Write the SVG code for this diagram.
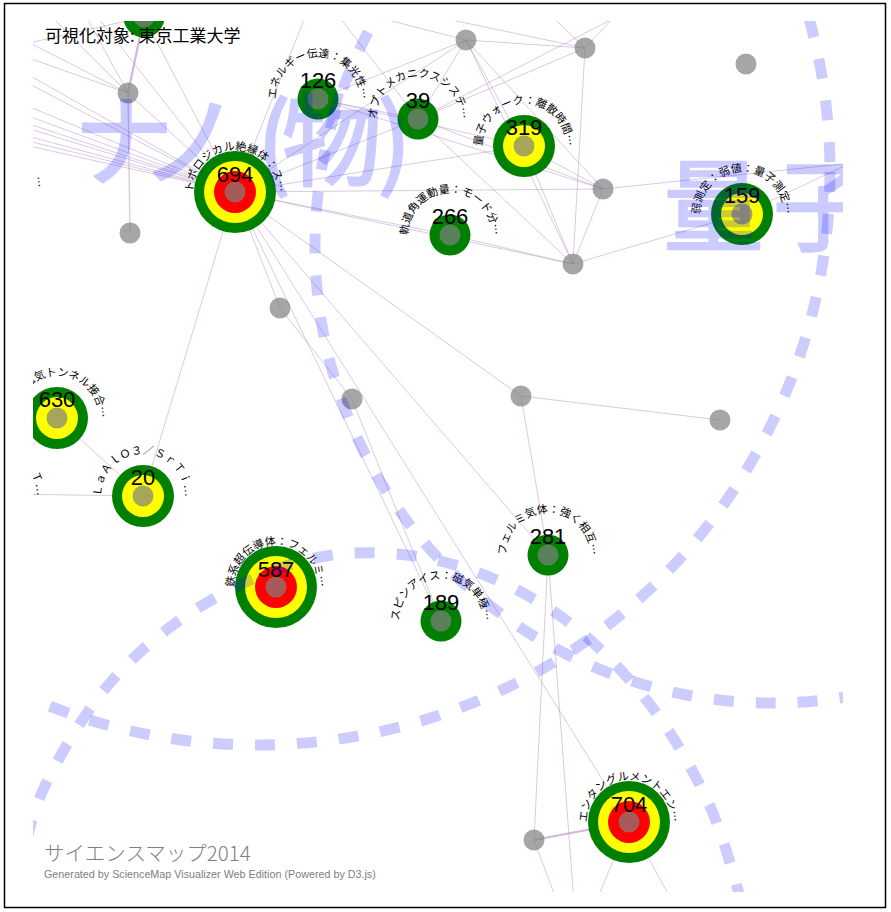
<svg xmlns="http://www.w3.org/2000/svg" xmlns:xlink="http://www.w3.org/1999/xlink" width="891" height="912" viewBox="0 0 891 912">
<style>
.lk{stroke:#b088c0;stroke-opacity:.45;stroke-width:1;fill:none}
.lk2{stroke:#b088c0;stroke-opacity:.6;stroke-width:2.2;fill:none}
.g{fill:#008000}.y{fill:#ffff00}.r{fill:#ff0000}.c{fill:#808080;fill-opacity:.7}
.num{font-family:"Liberation Sans",Arial,sans-serif;font-size:22px;text-anchor:middle;fill:#000}
.lbl{font-family:"Noto Sans CJK JP","Noto Sans CJK SC",sans-serif;font-size:11px;fill:#000}
.wm{font-family:"Noto Sans CJK JP","Noto Sans CJK SC",sans-serif;fill:#0000ff;stroke:#0000ff;stroke-width:2.5;stroke-linejoin:round;opacity:.2}
.dash{fill:none;stroke:#0000ff;stroke-opacity:.2;stroke-width:11;stroke-dasharray:20 22}
</style>
<defs>
<clipPath id="mapclip"><rect x="33" y="21" width="810" height="871"/></clipPath>
<path id="a694" d="M195.53,206.36 A42,42 0 1 1 274.47,206.36"/>
<path id="a126" d="M278.53,113.36 A42,42 0 1 1 357.47,113.36"/>
<path id="a39" d="M378.53,133.36 A42,42 0 1 1 457.47,133.36"/>
<path id="a319" d="M484.53,160.36 A42,42 0 1 1 563.47,160.36"/>
<path id="a266" d="M410.53,249.36 A42,42 0 1 1 489.47,249.36"/>
<path id="a159" d="M702.53,228.36 A42,42 0 1 1 781.47,228.36"/>
<path id="a630" d="M17.53,432.36 A42,42 0 1 1 96.47,432.36"/>
<path id="a20" d="M103.53,510.36 A42,42 0 1 1 182.47,510.36"/>
<path id="a587" d="M236.53,601.36 A42,42 0 1 1 315.47,601.36"/>
<path id="a189" d="M401.53,635.36 A42,42 0 1 1 480.47,635.36"/>
<path id="a281" d="M508.53,569.36 A42,42 0 1 1 587.47,569.36"/>
<path id="a704" d="M589.53,836.36 A42,42 0 1 1 668.47,836.36"/>
<path id="aL1" d="M-46.47,202.36 A42,42 0 1 1 32.47,202.36"/>
<path id="aL2" d="M-44.47,509.86 A42,42 0 1 1 34.47,509.86"/>
</defs>
<rect x="0" y="0" width="891" height="912" fill="#fff"/>
<g clip-path="url(#mapclip)">
<g id="links">
<line class="lk2" x1="144" y1="17" x2="128" y2="93"/>
<line class="lk" x1="128" y1="93" x2="130" y2="233" style="stroke-width:1.4"/>
<line class="lk" x1="144" y1="17" x2="235" y2="192"/>
<line class="lk" x1="128" y1="93" x2="235" y2="192"/>
<line class="lk" x1="20" y1="38" x2="128" y2="93"/>
<line class="lk" x1="20" y1="55" x2="128" y2="93"/>
<line class="lk" x1="40" y1="5" x2="128" y2="93"/>
<line class="lk" x1="80" y1="5" x2="128" y2="93"/>
<line class="lk" x1="20" y1="45" x2="144" y2="17"/>
<line class="lk" x1="88" y1="5" x2="235" y2="192"/>
<line class="lk" x1="20" y1="70" x2="235" y2="192"/>
<line class="lk" x1="20" y1="79" x2="235" y2="192"/>
<line class="lk" x1="20" y1="103" x2="235" y2="192"/>
<line class="lk" x1="20" y1="113" x2="235" y2="192"/>
<line class="lk" x1="20" y1="121" x2="235" y2="192"/>
<line class="lk" x1="20" y1="126" x2="235" y2="192"/>
<line class="lk" x1="20" y1="134" x2="235" y2="192"/>
<line class="lk" x1="20" y1="139" x2="235" y2="192"/>
<line class="lk" x1="20" y1="144" x2="235" y2="192"/>
<line class="lk" x1="235" y1="192" x2="310" y2="5"/>
<line class="lk" x1="235" y1="192" x2="418" y2="119"/>
<line class="lk" x1="235" y1="192" x2="524" y2="146"/>
<line class="lk" x1="235" y1="192" x2="603" y2="189"/>
<line class="lk" x1="235" y1="192" x2="450" y2="235"/>
<line class="lk" x1="235" y1="192" x2="573" y2="264"/>
<line class="lk" x1="235" y1="192" x2="466" y2="40"/>
<line class="lk" x1="235" y1="192" x2="280" y2="308"/>
<line class="lk" x1="280" y1="308" x2="352" y2="399"/>
<line class="lk" x1="235" y1="192" x2="441" y2="621"/>
<line class="lk" x1="352" y1="399" x2="441" y2="621"/>
<line class="lk" x1="235" y1="192" x2="629" y2="822"/>
<line class="lk" x1="235" y1="192" x2="548" y2="555"/>
<line class="lk" x1="235" y1="192" x2="521" y2="396"/>
<line class="lk" x1="235" y1="192" x2="143" y2="496"/>
<line class="lk" x1="521" y1="396" x2="720" y2="420"/>
<line class="lk" x1="521" y1="396" x2="548" y2="555"/>
<line class="lk" x1="548" y1="555" x2="534" y2="840"/>
<line class="lk" x1="548" y1="555" x2="576" y2="930"/>
<line class="lk2" x1="629" y1="822" x2="534" y2="840"/>
<line class="lk" x1="629" y1="822" x2="592" y2="912"/>
<line class="lk" x1="629" y1="822" x2="678" y2="912"/>
<line class="lk" x1="534" y1="840" x2="561" y2="912"/>
<line class="lk" x1="57" y1="418" x2="143" y2="496"/>
<line class="lk" x1="57" y1="418" x2="10" y2="470"/>
<line class="lk" x1="143" y1="496" x2="0" y2="494"/>
<line class="lk" x1="318" y1="99" x2="418" y2="119"/>
<line class="lk" x1="318" y1="99" x2="524" y2="146"/>
<line class="lk" x1="318" y1="99" x2="466" y2="40"/>
<line class="lk" x1="318" y1="99" x2="603" y2="189"/>
<line class="lk" x1="418" y1="119" x2="466" y2="40"/>
<line class="lk" x1="418" y1="119" x2="585" y2="48"/>
<line class="lk" x1="418" y1="119" x2="603" y2="189"/>
<line class="lk" x1="418" y1="119" x2="573" y2="264"/>
<line class="lk" x1="418" y1="119" x2="330" y2="5"/>
<line class="lk" x1="418" y1="119" x2="630" y2="10"/>
<line class="lk" x1="466" y1="40" x2="585" y2="48"/>
<line class="lk" x1="466" y1="40" x2="603" y2="189"/>
<line class="lk" x1="466" y1="40" x2="573" y2="264"/>
<line class="lk" x1="466" y1="40" x2="524" y2="146"/>
<line class="lk" x1="290" y1="-5" x2="466" y2="40"/>
<line class="lk" x1="380" y1="5" x2="585" y2="48"/>
<line class="lk" x1="585" y1="48" x2="540" y2="5"/>
<line class="lk" x1="585" y1="48" x2="625" y2="5"/>
<line class="lk" x1="585" y1="48" x2="573" y2="264"/>
<line class="lk" x1="603" y1="189" x2="573" y2="264"/>
<line class="lk" x1="603" y1="189" x2="900" y2="158"/>
<line class="lk" x1="524" y1="146" x2="603" y2="189"/>
<line class="lk" x1="524" y1="146" x2="573" y2="264"/>
<line class="lk" x1="450" y1="235" x2="573" y2="264"/>
<line class="lk" x1="573" y1="264" x2="742" y2="214"/>
<line class="lk" x1="742" y1="214" x2="900" y2="140"/>
</g>
<g id="node-tl"><circle class="g" cx="144" cy="17" r="20.5"/><circle class="c" cx="144" cy="17" r="10.5"/></g>
<g id="node-g1"><circle class="c" cx="128" cy="93" r="10.5"/></g>
<g id="node-g2"><circle class="c" cx="130" cy="233" r="10.5"/></g>
<g id="node-g3"><circle class="c" cx="466" cy="40" r="10.5"/></g>
<g id="node-g4"><circle class="c" cx="585" cy="48" r="10.5"/></g>
<g id="node-g5"><circle class="c" cx="746" cy="64" r="10.5"/></g>
<g id="node-g6"><circle class="c" cx="603" cy="189" r="10.5"/></g>
<g id="node-g7"><circle class="c" cx="573" cy="264" r="10.5"/></g>
<g id="node-g8"><circle class="c" cx="280" cy="308" r="10.5"/></g>
<g id="node-g9"><circle class="c" cx="352" cy="399" r="10.5"/></g>
<g id="node-g10"><circle class="c" cx="521" cy="396" r="10.5"/></g>
<g id="node-g11"><circle class="c" cx="720" cy="420" r="10.5"/></g>
<g id="node-g12"><circle class="c" cx="534" cy="840" r="10.5"/></g>
<g id="node-694"><circle class="g" cx="235" cy="192" r="41"/><circle class="y" cx="235" cy="192" r="31"/><circle class="r" cx="235" cy="192" r="21"/><circle class="c" cx="235" cy="192" r="10.5"/><text class="num" x="235" y="182">694</text><text class="lbl" text-anchor="middle"><textPath xlink:href="#a694" startOffset="50%">トポロジカル絶縁体：ス…</textPath></text></g>
<g id="node-126"><circle class="g" cx="318" cy="99" r="20.5"/><circle class="c" cx="318" cy="99" r="10.5"/><text class="num" x="318" y="88">126</text><text class="lbl" text-anchor="middle"><textPath xlink:href="#a126" startOffset="50%">エネルギー伝達：集光性…</textPath></text></g>
<g id="node-39"><circle class="g" cx="418" cy="119" r="20.5"/><circle class="c" cx="418" cy="119" r="10.5"/><text class="num" x="418" y="108">39</text><text class="lbl" text-anchor="middle"><textPath xlink:href="#a39" startOffset="50%">オプトメカニクスシステ…</textPath></text></g>
<g id="node-319"><circle class="g" cx="524" cy="146" r="31"/><circle class="y" cx="524" cy="146" r="21"/><circle class="c" cx="524" cy="146" r="10.5"/><text class="num" x="524" y="135">319</text><text class="lbl" text-anchor="middle"><textPath xlink:href="#a319" startOffset="50%">量子ウォーク：離散時間…</textPath></text></g>
<g id="node-266"><circle class="g" cx="450" cy="235" r="20.5"/><circle class="c" cx="450" cy="235" r="10.5"/><text class="num" x="450" y="224">266</text><text class="lbl" text-anchor="middle"><textPath xlink:href="#a266" startOffset="50%">軌道角運動量：モード分…</textPath></text></g>
<g id="node-159"><circle class="g" cx="742" cy="214" r="31"/><circle class="y" cx="742" cy="214" r="21"/><circle class="c" cx="742" cy="214" r="10.5"/><text class="num" x="742" y="203">159</text><text class="lbl" text-anchor="middle"><textPath xlink:href="#a159" startOffset="50%">弱測定：弱値：量子測定…</textPath></text></g>
<g id="node-630"><circle class="g" cx="57" cy="418" r="31"/><circle class="y" cx="57" cy="418" r="21"/><circle class="c" cx="57" cy="418" r="10.5"/><text class="num" x="57" y="407">630</text><text class="lbl" text-anchor="end"><textPath xlink:href="#a630" startOffset="90.91%">磁気トンネル接合…</textPath></text></g>
<g id="node-20"><circle class="g" cx="143" cy="496" r="31"/><circle class="y" cx="143" cy="496" r="21"/><circle class="c" cx="143" cy="496" r="10.5"/><text class="num" x="143" y="485">20</text><text class="lbl" text-anchor="middle"><textPath xlink:href="#a20" startOffset="50%">ＬａＡｌＯ３／ＳｒＴｉ…</textPath></text></g>
<g id="node-587"><circle class="g" cx="276" cy="587" r="41"/><circle class="y" cx="276" cy="587" r="31"/><circle class="r" cx="276" cy="587" r="21"/><circle class="c" cx="276" cy="587" r="10.5"/><text class="num" x="276" y="577">587</text><text class="lbl" text-anchor="middle"><textPath xlink:href="#a587" startOffset="50%">鉄系超伝導体：フェルミ…</textPath></text></g>
<g id="node-189"><circle class="g" cx="441" cy="621" r="20.5"/><circle class="c" cx="441" cy="621" r="10.5"/><text class="num" x="441" y="610">189</text><text class="lbl" text-anchor="middle"><textPath xlink:href="#a189" startOffset="50%">スピンアイス：磁気単極…</textPath></text></g>
<g id="node-281"><circle class="g" cx="548" cy="555" r="20.5"/><circle class="c" cx="548" cy="555" r="10.5"/><text class="num" x="548" y="544">281</text><text class="lbl" text-anchor="middle"><textPath xlink:href="#a281" startOffset="50%">フェルミ気体：強く相互…</textPath></text></g>
<g id="node-704"><circle class="g" cx="629" cy="822" r="41"/><circle class="y" cx="629" cy="822" r="31"/><circle class="r" cx="629" cy="822" r="21"/><circle class="c" cx="629" cy="822" r="10.5"/><text class="num" x="629" y="812">704</text><text class="lbl" text-anchor="middle"><textPath xlink:href="#a704" startOffset="50%">エンタングルメントエン…</textPath></text></g>
<g id="node-left1"><text class="lbl" text-anchor="end"><textPath xlink:href="#aL1" startOffset="90.91%">…</textPath></text></g>
<g id="node-left2"><text class="lbl" text-anchor="end"><textPath xlink:href="#aL2" startOffset="90.91%">Ｔ…</textPath></text></g>
<g id="areas">
<text class="wm" x="73.5 140 257 282 377.5" y="178" font-size="100">ナノ(物)</text>
<text class="wm" x="663.5 773" y="243" font-size="100">量子</text>
<circle class="dash" cx="257" cy="172" r="573"/>
<circle class="dash" cx="772" cy="246" r="457"/>
<path class="dash" d="M18,880 C24.3,857.5 27.7,822.8 43,790 C58.3,757.2 83.3,713.8 110,683 C136.7,652.2 168,626 203,605 C238,584 280.5,564.3 320,557 C359.5,549.7 401.2,552 440,561 C478.8,570 519,588.3 553,611 C587,633.7 618.2,665.2 644,697 C669.8,728.8 691.2,765.7 708,802 C724.8,838.3 736.3,885.3 745,915"/>
</g>
</g>
<text x="45" y="42" font-family="'Noto Sans CJK JP','Noto Sans CJK SC',sans-serif" font-size="17" fill="#000">可視化対象: 東京工業大学</text>
<text x="44" y="861" font-family="'Noto Sans CJK JP','Noto Sans CJK SC',sans-serif" font-size="20.5" font-weight="300" fill="#808080">サイエンスマップ2014</text>
<text x="44" y="878" font-family="'Liberation Sans',Arial,sans-serif" font-size="10.75" fill="#808080">Generated by ScienceMap Visualizer Web Edition (Powered by D3.js)</text>
<rect x="4.5" y="3.5" width="881" height="904" fill="none" stroke="#000" stroke-width="1.5"/>
</svg>
